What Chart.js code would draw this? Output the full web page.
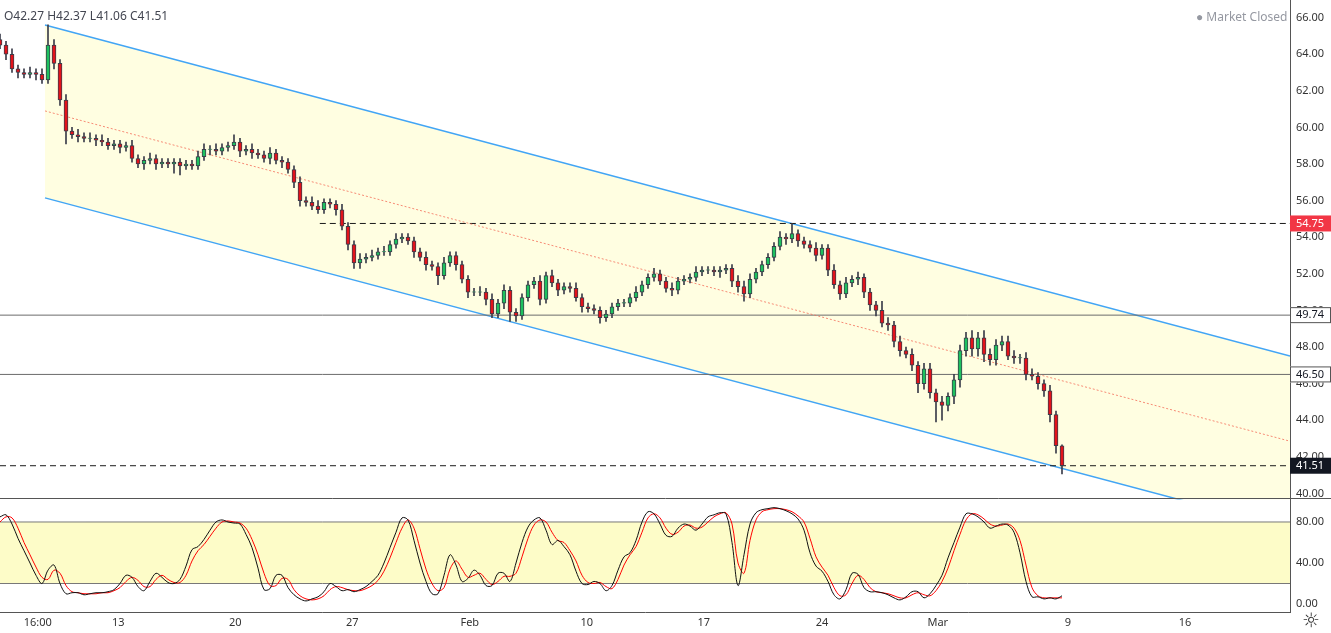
<!DOCTYPE html>
<html><head><meta charset="utf-8">
<script src="https://cdn.jsdelivr.net/npm/chart.js@4"></script>
<style>
body{margin:0;background:#fff;font-family:"Noto Sans",Roboto,sans-serif}
#wrap{position:relative;width:1331px;height:633px;overflow:hidden}
canvas{position:absolute;left:0}
#ohlc{position:absolute;left:4px;top:7px;font-size:12px;color:#434651;letter-spacing:0}
#mc{position:absolute;left:1196px;top:8px;font-size:12px;color:#9598a1}
</style></head><body>
<div id="wrap">
<canvas id="main" width="1331" height="524" style="top:-12px"></canvas>
<canvas id="stoch" width="1331" height="150" style="top:485px"></canvas>
<div id="ohlc">O42.27 H42.37 L41.06 C41.51</div>
<div id="mc">● Market Closed</div>
</div>
<script>
const closes=[64.5,64.0,63.2,63.0,62.9,63.0,62.9,62.6,64.5,63.5,
61.5,59.8,59.6,59.5,59.4,59.4,59.3,59.2,59.0,59.1,
58.9,59.0,58.3,58.0,58.2,58.3,58.0,58.1,58.0,58.1,
57.9,58.0,57.9,58.4,58.8,58.8,58.7,58.9,59.0,59.2,
58.7,58.8,58.6,58.5,58.3,58.6,58.2,58.1,57.7,57.0,
56.0,55.9,55.7,55.5,55.9,55.8,55.5,54.6,53.6,52.6,
52.8,52.9,53.0,53.2,53.2,53.6,53.9,54.0,53.8,53.2,
52.9,52.5,52.4,51.9,52.6,53.0,52.5,51.7,51.0,51.0,
51.0,50.6,49.8,50.4,51.1,49.9,49.7,50.7,51.4,51.6,
50.6,51.9,51.5,51.1,51.3,51.2,50.7,50.2,50.1,50.0,
49.6,49.8,50.2,50.4,50.4,50.7,51.0,51.4,51.8,52.0,
51.6,51.2,51.1,51.6,51.7,51.8,52.1,52.2,52.2,52.1,
52.2,52.3,51.6,51.3,50.9,51.7,52.1,52.5,52.9,53.5,
54.0,53.9,54.2,53.8,53.6,53.4,53.0,53.4,52.2,51.4,
50.9,51.5,51.7,51.8,51.0,50.3,50.0,49.3,49.2,48.3,
47.8,47.6,47.0,46.0,46.8,45.5,45.0,44.8,45.3,46.2,
47.8,48.5,47.9,48.5,47.6,47.3,48.1,48.3,47.5,47.4,
47.4,46.5,46.4,46.0,45.6,44.3,42.6,41.51];
const firstOpen=64.8;
const wickUp=[.3,.2,.3,.2,.2,.3,.2,.3,1.1,.3,
.2,.3,.2,.3,.2,.3,.2,.3,.2,.2,
.2,.2,.3,.2,.2,.3,.2,.2,.2,.2,
.2,.2,.2,.3,.3,.2,.3,.2,.2,.4,
.2,.2,.3,.2,.2,.3,.2,.2,.2,.2,
.3,.2,.3,.3,.2,.2,.2,.3,.2,.2,
.3,.2,.3,.2,.3,.2,.3,.2,.2,.2,
.2,.3,.2,.2,.3,.2,.2,.2,.2,.2,
.3,.2,.3,.2,.3,.2,.2,.2,.2,.2,
.3,.2,.3,.2,.2,.2,.3,.2,.2,.2,
.2,.2,.2,.2,.2,.2,.3,.2,.2,.3,
.2,.2,.3,.2,.2,.2,.3,.2,.2,.2,
.2,.2,.2,.3,.3,.3,.2,.2,.2,.2,
.3,.2,.55,.2,.2,.2,.3,.2,.2,.3,
.2,.3,.2,.3,.2,.2,.2,.5,.3,.2,
.3,.2,.3,.2,.3,.3,.2,.3,.2,.3,
.3,.3,.4,.3,.4,.3,.3,.3,.3,.3,
.2,.3,.3,.2,.2,.3,.2,.05];
const wickDn=[.2,.3,.2,.3,.2,.2,.3,.2,.2,.3,
.3,.7,.2,.3,.2,.2,.3,.2,.2,.2,
.3,.2,.2,.2,.3,.2,.3,.2,.2,.5,
.5,.2,.2,.2,.2,.3,.2,.2,.2,.2,
.3,.2,.3,.2,.2,.3,.2,.3,.2,.3,
.3,.2,.2,.2,.2,.2,.3,.2,.3,.3,
.3,.2,.2,.2,.2,.2,.2,.2,.2,.3,
.2,.3,.2,.5,.2,.2,.3,.2,.3,.2,
.2,.3,.2,.2,.3,.5,.3,.2,.2,.2,
.3,.2,.2,.3,.2,.2,.2,.3,.2,.2,
.3,.2,.2,.2,.2,.2,.2,.2,.2,.2,
.2,.2,.3,.2,.2,.2,.2,.2,.2,.2,
.3,.2,.3,.3,.4,.2,.2,.2,.2,.2,
.2,.3,.2,.3,.2,.2,.3,.2,.3,.2,
.3,.2,.2,.3,.3,.3,.3,.2,.3,.3,
.3,.2,.3,.5,.3,.3,1.1,.8,.3,.4,
.4,.3,.4,.4,.4,.3,.3,.3,.2,.3,
.3,.3,.2,.3,.3,.4,.4,.45];
const stochK=[85,87,78,64,52,40,28,20,33,38,20,10,11,11,9,10,11,11,12,14,20,28,26,17,13,22,30,26,21,20,
24,37,53,56,63,72,80,82,80,79,78,68,55,35,14,15,28,28,16,9,5,3,5,7,12,20,17,13,14,12,
14,17,22,28,40,55,70,84,82,62,40,22,10,10,28,48,38,22,25,33,28,18,18,30,30,22,40,60,75,82,
84,72,58,62,56,48,32,20,19,22,20,13,18,33,46,50,62,80,90,88,78,67,66,74,78,76,72,78,85,87,
89,88,60,18,48,78,89,92,93,94,93,91,88,83,72,50,37,32,22,9,5,14,30,29,16,12,12,11,9,6,
4,7,12,12,6,10,18,28,45,60,75,88,88,85,80,74,76,78,77,70,50,22,7,7,5,6,5,8];
const stochD=[80,85,84,74,60,48,36,26,24,33,30,18,12,11,10,10,10,11,11,13,16,22,26,23,17,17,24,28,24,21,
21,28,42,52,58,66,74,80,81,80,79,74,63,48,30,18,18,25,24,14,8,5,4,5,8,14,17,16,14,13,
13,15,18,23,32,45,60,74,82,74,54,34,20,13,16,34,42,34,26,28,30,24,19,22,27,27,30,46,64,77,
82,80,70,62,60,52,42,28,21,20,21,17,15,24,38,48,56,70,84,88,84,74,68,70,76,77,74,75,80,85,
88,89,78,40,30,62,82,90,92,93,93,92,90,86,80,64,46,36,28,16,8,9,20,28,24,16,12,11,10,8,
6,6,9,11,9,8,13,22,35,52,68,82,88,87,83,78,76,77,78,74,62,38,16,8,6,6,6,6];
const priceTicks=[40,42,44,46,48,50,52,54,56,58,60,62,64,66];
const stochTicks=[0,40,80];
const timeTickPos=[6.3,19.7,39.2,58.7,78.3,97.8,117.3,137,156.3,178,197.5];
const timeTickLabels=["16:00","13","20","27","Feb","10","17","24","Mar","9","16"];
const channelUpper=[[7.5,65.6],[215,47.5]];
const channelLower=[[7.5,56.15],[215,38.05]];
const channelMid=[[7.5,60.9],[215,42.85]];
const levels={resist:54.75,l1:49.74,l2:46.50,last:41.51};
const XMIN=0,XMAX=215;

const opens=closes.map((c,i)=>i===0?firstOpen:closes[i-1]);
const bodies=closes.map((c,i)=>({x:i,y:[opens[i],c===opens[i]?c+0.02:c]}));
const wicks=closes.map((c,i)=>({x:i,y:[Math.min(opens[i],c)-wickDn[i],Math.max(opens[i],c)+wickUp[i]]}));
const bodyColors=closes.map((c,i)=>c>=opens[i]?'#1ec15f':'#e3131b');
const pts=a=>a.map(p=>({x:p[0],y:p[1]}));
const hline=(y,x0)=>[{x:x0,y},{x:XMAX,y}];

const labelPlugin={id:'lbl',afterDraw(ch){
  const y=ch.scales.y,ctx=ch.ctx,x0=ch.chartArea.right;
  const box=(v,bg,fg,border)=>{const py=y.getPixelForValue(v);ctx.fillStyle=bg;ctx.fillRect(x0,py-8,41,16);
    if(border){ctx.strokeStyle=border;ctx.lineWidth=1;ctx.strokeRect(x0+0.5,py-7.5,40,15);}
    ctx.fillStyle=fg;ctx.font='11px "Noto Sans",sans-serif';ctx.textBaseline='middle';ctx.textAlign='left';ctx.fillText(v.toFixed(2),x0+6,py);};
  box(levels.resist,'#f23645','#fff');
  box(levels.l1,'#fff','#131722','#555');
  box(levels.l2,'#fff','#131722','#555');
  box(levels.last,'#131722','#fff');
}};

Chart.defaults.font.family='"Noto Sans",sans-serif';
Chart.defaults.font.size=11;
Chart.defaults.color='#333';
Chart.defaults.animation=false;

new Chart(document.getElementById('main'),{
  type:'bar',
  data:{datasets:[
    {type:'bar',data:bodies,backgroundColor:bodyColors,borderColor:'#3b3d4a',borderWidth:1,borderSkipped:false,barThickness:4,grouped:false,order:0},
    {type:'bar',data:wicks,backgroundColor:'#3b3d4a',borderWidth:0,barThickness:1,grouped:false,order:1},
    {type:'line',data:pts(channelUpper),borderColor:'#42a5f5',borderWidth:1.5,pointRadius:0,order:3},
    {type:'line',data:pts(channelLower),borderColor:'#42a5f5',borderWidth:1.5,pointRadius:0,fill:'-1',backgroundColor:'rgba(255,253,215,0.75)',order:4},
    {type:'line',data:pts(channelMid),borderColor:'rgba(244,110,90,0.8)',borderWidth:1,borderDash:[2,2],pointRadius:0,order:2},
    {type:'line',data:hline(levels.l1,XMIN),borderColor:'#6b6b6b',borderWidth:1,pointRadius:0,order:2},
    {type:'line',data:hline(levels.l2,XMIN),borderColor:'#6b6b6b',borderWidth:1,pointRadius:0,order:2},
    {type:'line',data:hline(levels.resist,53.3),borderColor:'#1a1a1a',borderWidth:1,borderDash:[6,4],pointRadius:0,order:2},
    {type:'line',data:hline(levels.last,XMIN),borderColor:'#1a1a1a',borderWidth:1,borderDash:[6,4],pointRadius:0,order:2}
  ]},
  options:{responsive:false,layout:{padding:0,autoPadding:false},
    plugins:{legend:{display:false},tooltip:{enabled:false}},
    scales:{
      x:{type:'linear',min:XMIN,max:XMAX,display:false,offset:false,grid:{offset:false}},
      y:{position:'right',min:39.67,max:66.93,
        afterFit(s){s.width=41;},
        afterBuildTicks(s){s.ticks=priceTicks.map(v=>({value:v}));},
        ticks:{callback:v=>v.toFixed(2),padding:6,color:'#333'},
        grid:{display:false,drawTicks:false},
        border:{color:'#555'}}
    }},
  plugins:[labelPlugin]
});

new Chart(document.getElementById('stoch'),{
  type:'line',
  data:{datasets:[
    {data:stochD.map((v,i)=>({x:i,y:v})),borderColor:'#ff0000',borderWidth:1,pointRadius:0,tension:0.35,order:1},
    {data:stochK.map((v,i)=>({x:i,y:v})),borderColor:'#111',borderWidth:1,pointRadius:0,tension:0.35,order:0},
    {data:[{x:XMIN,y:80},{x:XMAX,y:80}],borderColor:'#787878',borderWidth:1,pointRadius:0,order:4},
    {data:[{x:XMIN,y:20},{x:XMAX,y:20}],borderColor:'#787878',borderWidth:1,pointRadius:0,fill:'-1',backgroundColor:'rgba(253,251,190,0.85)',order:5}
  ]},
  options:{responsive:false,layout:{padding:0,autoPadding:false},
    plugins:{legend:{display:false},tooltip:{enabled:false}},
    scales:{
      x:{type:'linear',min:XMIN,max:XMAX,
        afterBuildTicks(s){s.ticks=timeTickPos.map(v=>({value:v}));},
        ticks:{callback:(v,i)=>timeTickLabels[i],maxRotation:0,autoSkip:false,padding:4,color:'#333'},
        grid:{display:false,drawTicks:false},border:{color:'#555'},
        afterFit(s){s.height=23;}},
      y:{position:'right',min:-7.8,max:103.8,
        afterFit(s){s.width=41;},
        afterBuildTicks(s){s.ticks=stochTicks.map(v=>({value:v}));},
        ticks:{callback:v=>v.toFixed(2),padding:6,color:'#333'},
        grid:{display:false,drawTicks:false},border:{color:'#555'}}
    }},
  plugins:[{id:'top',afterDraw(ch){const c=ch.ctx,t=Math.round(ch.chartArea.top)+0.5;c.strokeStyle='#555';c.lineWidth=1;c.beginPath();c.moveTo(0,t);c.lineTo(1331,t);c.stroke();
    c.fillStyle='#333';c.font='20px "DejaVu Sans"';c.textAlign='center';c.textBaseline='middle';c.fillText('☼',1311,ch.height-13);}}]
});
</script>
</body></html>
